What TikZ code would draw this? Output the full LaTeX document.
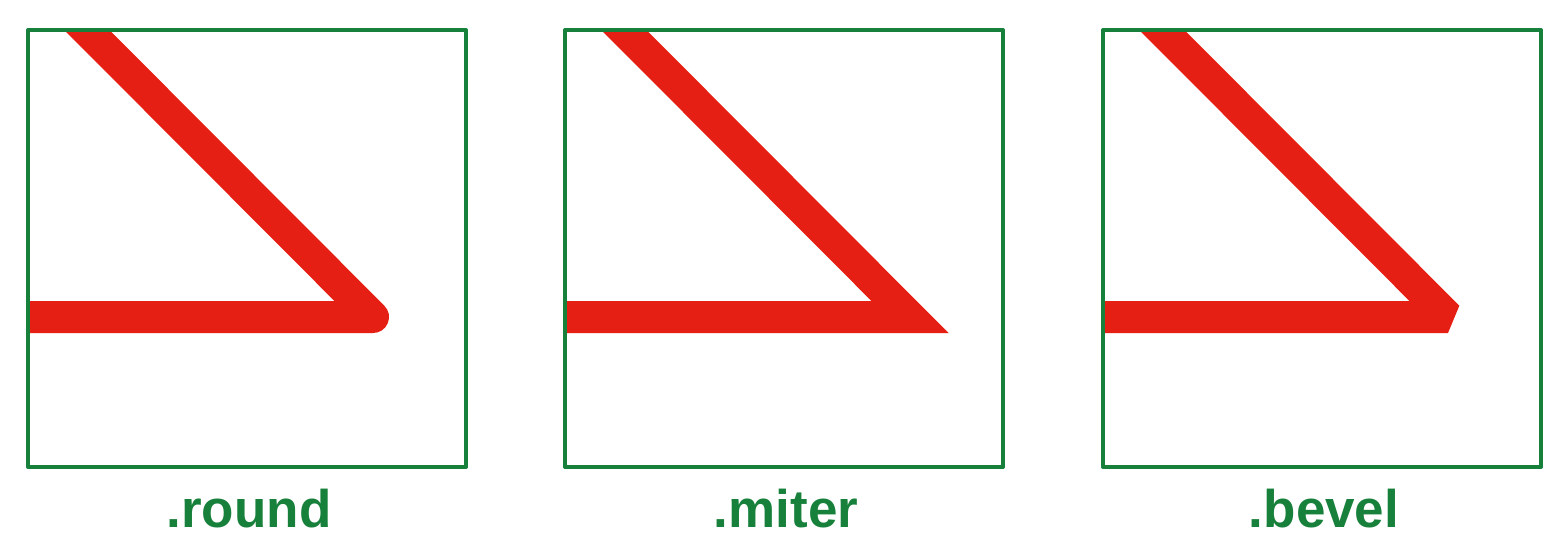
\documentclass[tikz,border=0pt]{standalone}
\usepackage{fontspec}
\setmainfont{Liberation Sans}
\usepackage{xcolor}
\definecolor{frame}{HTML}{17803A}
\definecolor{stroke}{HTML}{E61F14}
\usetikzlibrary{positioning}
\tikzset{
  panel/.style  ={draw=frame,line width=2pt,line join=round},
  joinline/.style={draw=stroke,line width=16pt},
  lbl/.style    ={text=frame,font=\fontsize{26.5}{30}\selectfont\bfseries,inner sep=0pt},
}

\begin{document}
\begin{tikzpicture}[x=0.5pt,y=-0.5pt]
\useasboundingbox (0,0) rectangle (1559,553);
\foreach \nm/\xo in {round/28,miter/565,bevel/1103} {
  \coordinate (\nm-nw) at (\xo,30);
  \coordinate (\nm-se) at (\xo+438,467);
  \coordinate (\nm-in) at (\xo+1,-28);
  \coordinate (\nm-knee) at (\xo+345,317);
  \coordinate (\nm-out) at (\xo-30,317);
  % the red path, cut at the frame
  \begin{scope}
    \clip (\nm-nw) rectangle (\nm-se);
    \draw[joinline,line join=\nm] (\nm-in) -- (\nm-knee) -- (\nm-out);
  \end{scope}
  \draw[panel] (\nm-nw) rectangle (\nm-se);
  \node[lbl,anchor=base] (\nm-lbl) at (\xo+221,527) {.\nm};
}
\end{tikzpicture}
\end{document}
